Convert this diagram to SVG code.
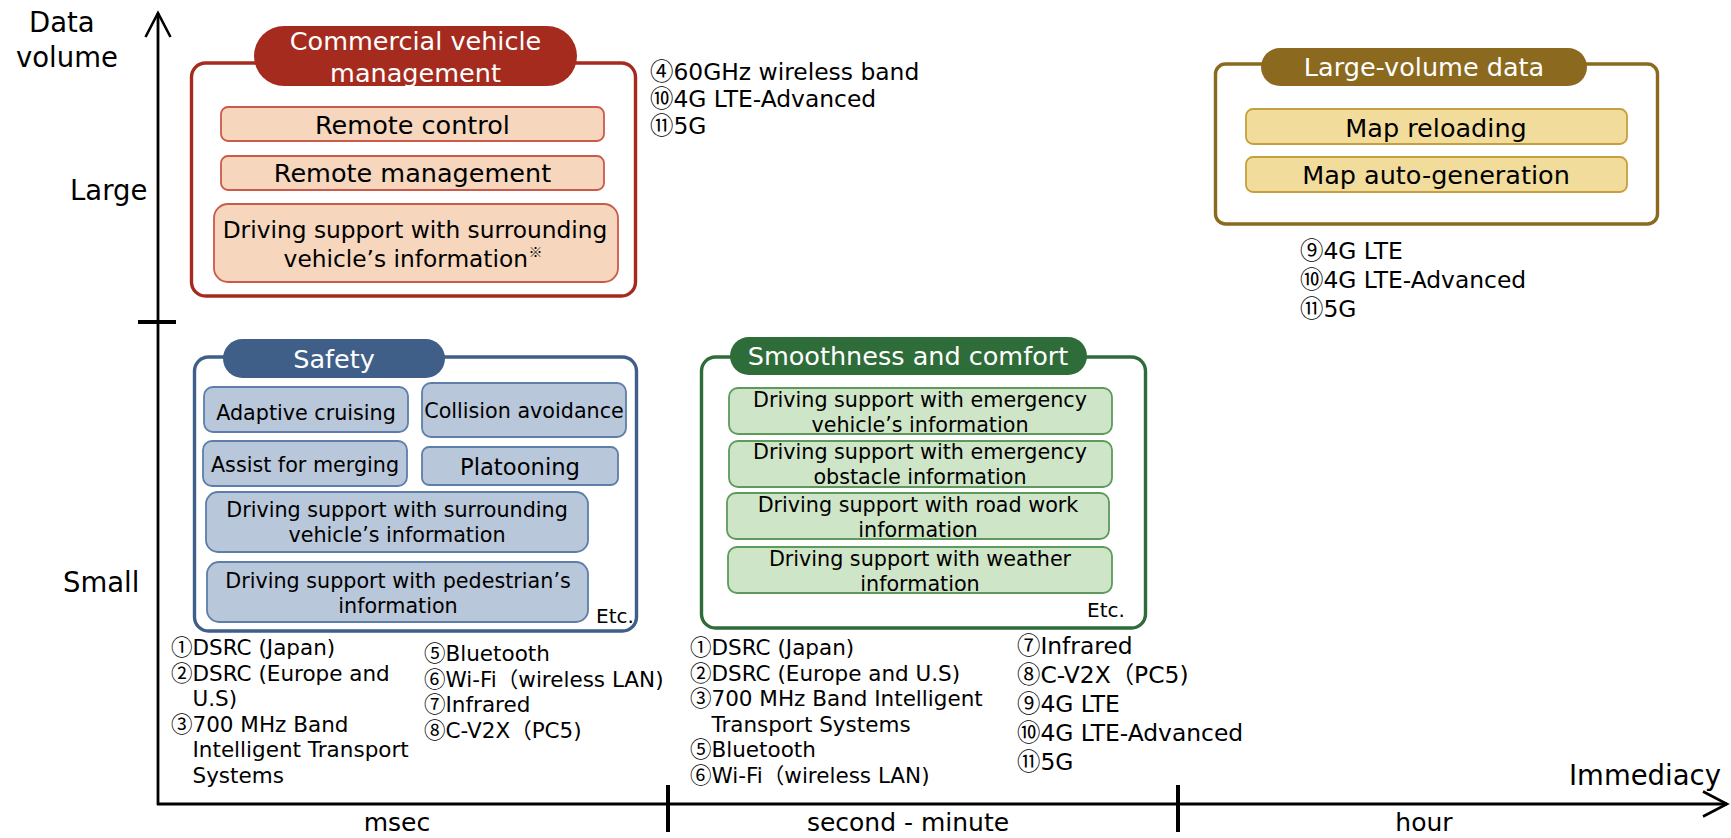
<svg xmlns="http://www.w3.org/2000/svg" width="1731" height="838" viewBox="0 0 1731 838">
<style>
text{font-family:"DejaVu Sans","Noto Sans CJK JP",sans-serif;fill:#000}
text.cj{font-family:"Noto Sans CJK JP",sans-serif}
.ax{font-size:27.5px}
.tl{font-size:25px;text-anchor:middle}
.ttl{font-size:25.5px;fill:#fff;text-anchor:middle}
.big{font-size:25.5px;text-anchor:middle}
.mid{font-size:23.3px;text-anchor:middle}
.sm{font-size:20.7px;text-anchor:middle}
.pl{font-size:22.7px;text-anchor:middle}
.etc{font-size:20px}
.l1{font-size:21.5px}
.l2{font-size:23.4px}
.axis{stroke:#000;stroke-width:2.8;fill:none}
.tick{stroke:#000;stroke-width:4}
.cOut{fill:#fff;stroke:#A62B1F;stroke-width:3.4}
.cPill{fill:#A62B1F}
.cSub{fill:#F6D6BD;stroke:#CA5A4B;stroke-width:1.8}
.gOut{fill:#fff;stroke:#8B6A1F;stroke-width:3.4}
.gPill{fill:#8B6A1F}
.gSub{fill:#F2DC9B;stroke:#C4A03E;stroke-width:1.8}
.bOut{fill:#fff;stroke:#3F5F88;stroke-width:3.4}
.bPill{fill:#3F5F88}
.bSub{fill:#B9C7DA;stroke:#5C7EA8;stroke-width:1.8}
.vOut{fill:#fff;stroke:#2E6C3A;stroke-width:3.4}
.vPill{fill:#2E6C3A}
.vSub{fill:#CFE5C7;stroke:#5D9A5C;stroke-width:1.8}
</style>
<defs>
<marker id="arr" viewBox="-27 -15 30 30" markerWidth="30" markerHeight="30" refX="0" refY="0" orient="auto" markerUnits="userSpaceOnUse">
<path d="M-24,-12.5 L0,0 L-24,12.5" fill="none" stroke="#000" stroke-width="2.6"/>
</marker>
</defs>
<g id="axes">
<line class="axis" x1="158" y1="805" x2="158" y2="13" marker-end="url(#arr)"/>
<line class="axis" x1="157" y1="804" x2="1727" y2="804" marker-end="url(#arr)"/>
<line class="tick" x1="138" y1="322" x2="176" y2="322"/>
<line class="tick" x1="668" y1="785" x2="668" y2="832"/>
<line class="tick" x1="1178" y1="785" x2="1178" y2="832"/>
<text class="ax" x="29" y="32">Data</text>
<text class="ax" x="16" y="67">volume</text>
<text class="ax" x="70" y="200">Large</text>
<text class="ax" x="63" y="592">Small</text>
<text class="ax" x="1569" y="785">Immediacy</text>
<text class="tl" x="397" y="831">msec</text>
<text class="tl" x="908" y="831">second - minute</text>
<text class="tl" x="1424" y="831">hour</text>
</g>
<g id="commercial">
<rect class="cOut" x="191.5" y="63" width="444" height="233" rx="14"/>
<rect class="cPill" x="254" y="26" width="323" height="60" rx="30"/>
<text class="ttl" x="415.5" y="50">Commercial vehicle</text>
<text class="ttl" x="415.5" y="82">management</text>
<rect class="cSub" x="221" y="107" width="383" height="34" rx="7"/>
<text class="big" x="412.5" y="134">Remote control</text>
<rect class="cSub" x="221" y="156" width="383" height="34" rx="7"/>
<text class="big" x="412.5" y="182">Remote management</text>
<rect class="cSub" x="214" y="204" width="404" height="78" rx="14"/>
<text class="mid" x="415" y="238">Driving support with surrounding</text>
<text class="mid" x="528" y="267" style="text-anchor:end">vehicle’s information</text>
<text class="cj" x="528.5" y="257" font-size="14">※</text>
</g>
<g id="large-volume">
<rect class="gOut" x="1215.5" y="64" width="442" height="160" rx="10"/>
<rect class="gPill" x="1261" y="48" width="326" height="38" rx="19"/>
<text class="ttl" x="1424" y="76">Large-volume data</text>
<rect class="gSub" x="1246" y="109" width="381" height="35" rx="7"/>
<text class="big" x="1436" y="137">Map reloading</text>
<rect class="gSub" x="1246" y="157" width="381" height="35" rx="7"/>
<text class="big" x="1436" y="184">Map auto-generation</text>
</g>
<g id="safety">
<rect class="bOut" x="194.5" y="357" width="442" height="274" rx="14"/>
<rect class="bPill" x="223" y="339" width="222" height="39" rx="19.5"/>
<text class="ttl" x="334" y="368">Safety</text>
<rect class="bSub" x="204" y="387" width="204" height="45" rx="9"/>
<text class="sm" x="306" y="420">Adaptive cruising</text>
<rect class="bSub" x="422" y="383" width="204" height="54" rx="9"/>
<text class="sm" x="524" y="418">Collision avoidance</text>
<rect class="bSub" x="203" y="441" width="204" height="45" rx="9"/>
<text class="sm" x="305" y="472">Assist for merging</text>
<rect class="bSub" x="422" y="447" width="196" height="38" rx="7"/>
<text class="pl" x="520" y="475">Platooning</text>
<rect class="bSub" x="206" y="492" width="382" height="60" rx="12"/>
<text class="sm" x="397" y="517">Driving support with surrounding</text>
<text class="sm" x="397" y="542">vehicle’s information</text>
<rect class="bSub" x="207" y="562" width="381" height="60" rx="12"/>
<text class="sm" x="398" y="588">Driving support with pedestrian’s</text>
<text class="sm" x="398" y="613">information</text>
<text class="etc" x="596" y="623">Etc.</text>
</g>
<g id="smoothness">
<rect class="vOut" x="701.5" y="357" width="444" height="271" rx="14"/>
<rect class="vPill" x="730" y="337" width="357" height="38" rx="19"/>
<text class="ttl" x="908" y="365">Smoothness and comfort</text>
<rect class="vSub" x="729" y="388" width="383" height="46" rx="9"/>
<text class="sm" x="920" y="407">Driving support with emergency</text>
<text class="sm" x="920" y="432">vehicle’s information</text>
<rect class="vSub" x="729" y="441" width="383" height="46" rx="9"/>
<text class="sm" x="920" y="459">Driving support with emergency</text>
<text class="sm" x="920" y="484">obstacle information</text>
<rect class="vSub" x="727" y="493" width="382" height="46" rx="9"/>
<text class="sm" x="918" y="512">Driving support with road work</text>
<text class="sm" x="918" y="537">information</text>
<rect class="vSub" x="728" y="547" width="384" height="46" rx="9"/>
<text class="sm" x="920" y="566">Driving support with weather</text>
<text class="sm" x="920" y="591">information</text>
<text class="etc" x="1087" y="617">Etc.</text>
</g>
<g id="lists">
<g class="l2">
<text class="cj" x="650" y="80">④</text><text x="673.4" y="80">60GHz wireless band</text>
<text class="cj" x="650" y="107">⑩</text><text x="673.4" y="107">4G LTE-Advanced</text>
<text class="cj" x="650" y="134">⑪</text><text x="673.4" y="134">5G</text>
<text class="cj" x="1300" y="259">⑨</text><text x="1323.4" y="259">4G LTE</text>
<text class="cj" x="1300" y="288">⑩</text><text x="1323.4" y="288">4G LTE-Advanced</text>
<text class="cj" x="1300" y="317">⑪</text><text x="1323.4" y="317">5G</text>
<text class="cj" x="1017" y="654">⑦</text><text x="1040.4" y="654">Infrared</text>
<text class="cj" x="1017" y="683">⑧</text><text x="1040.4" y="683">C-V2X（PC5)</text>
<text class="cj" x="1017" y="712">⑨</text><text x="1040.4" y="712">4G LTE</text>
<text class="cj" x="1017" y="741">⑩</text><text x="1040.4" y="741">4G LTE-Advanced</text>
<text class="cj" x="1017" y="770">⑪</text><text x="1040.4" y="770">5G</text>
</g>
<g class="l1">
<text class="cj" x="171" y="655">①</text><text x="192.5" y="655">DSRC (Japan)</text>
<text class="cj" x="171" y="680.5">②</text><text x="192.5" y="680.5">DSRC (Europe and</text>
<text x="192.5" y="706">U.S)</text>
<text class="cj" x="171" y="731.5">③</text><text x="192.5" y="731.5">700 MHz Band</text>
<text x="192.5" y="757">Intelligent Transport</text>
<text x="192.5" y="782.5">Systems</text>
<text class="cj" x="424" y="661">⑤</text><text x="445.5" y="661">Bluetooth</text>
<text class="cj" x="424" y="686.5">⑥</text><text x="445.5" y="686.5">Wi-Fi（wireless LAN)</text>
<text class="cj" x="424" y="712">⑦</text><text x="445.5" y="712">Infrared</text>
<text class="cj" x="424" y="737.5">⑧</text><text x="445.5" y="737.5">C-V2X（PC5)</text>
<text class="cj" x="690" y="655">①</text><text x="711.5" y="655">DSRC (Japan)</text>
<text class="cj" x="690" y="680.5">②</text><text x="711.5" y="680.5">DSRC (Europe and U.S)</text>
<text class="cj" x="690" y="706">③</text><text x="711.5" y="706">700 MHz Band Intelligent</text>
<text x="711.5" y="731.5">Transport Systems</text>
<text class="cj" x="690" y="757">⑤</text><text x="711.5" y="757">Bluetooth</text>
<text class="cj" x="690" y="782.5">⑥</text><text x="711.5" y="782.5">Wi-Fi（wireless LAN)</text>
</g>
</g>
</svg>
